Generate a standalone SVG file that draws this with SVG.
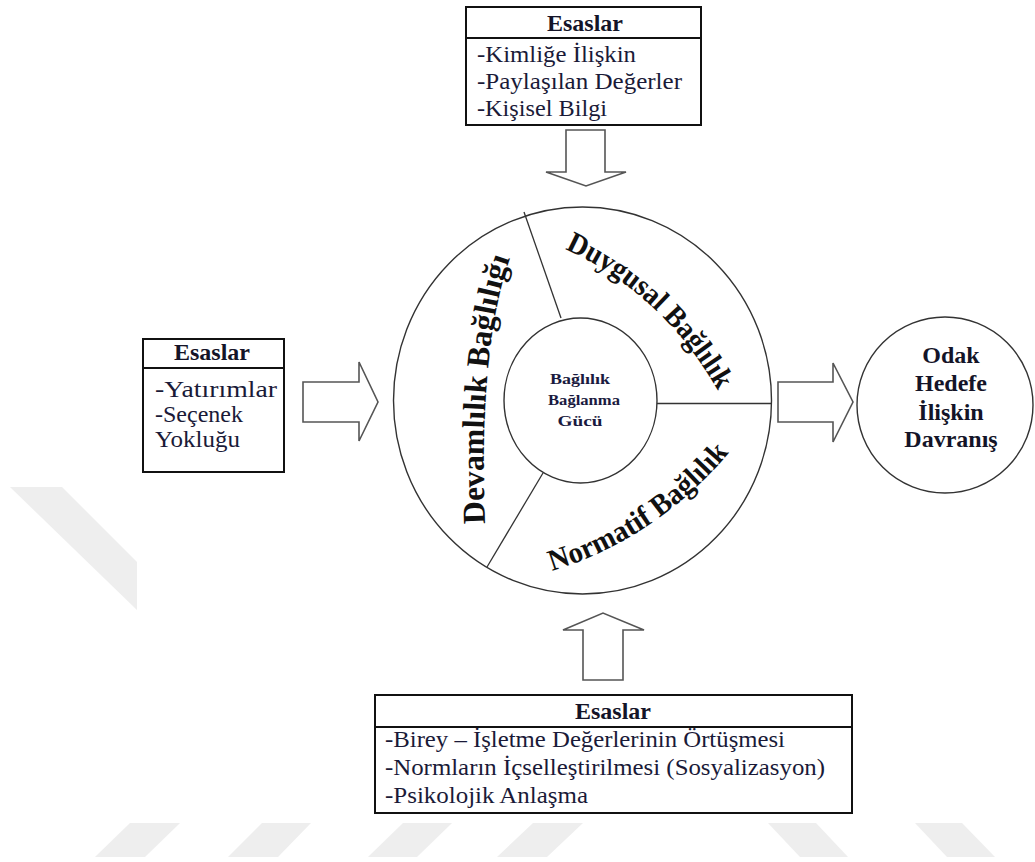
<svg xmlns="http://www.w3.org/2000/svg" width="1035" height="862" viewBox="0 0 1035 862">
<style>
.wm{fill:#eeeeee}
.box{fill:#ffffff;stroke:#111;stroke-width:2}
.div{stroke:#111;stroke-width:2}
.ring{fill:#ffffff;stroke:#333;stroke-width:1.4}
.sep{stroke:#333;stroke-width:1.3;fill:none}
.arrow{fill:#ffffff;stroke:#555;stroke-width:1.6;stroke-linejoin:miter}
.hd{font-family:"Liberation Serif","Times New Roman",serif;font-weight:bold;font-size:24px;fill:#141428;text-anchor:middle}
.it{font-family:"Liberation Serif","Times New Roman",serif;font-size:24px;fill:#1a1a38}
.ctr{font-family:"Liberation Serif","Times New Roman",serif;font-weight:bold;font-size:15px;fill:#1a1a40;text-anchor:middle}
.arc{font-family:"Liberation Serif","Times New Roman",serif;font-weight:bold;fill:#111}
</style>
<defs>
<path id="p-dev" d="M 485,524 Q 478,340 513,250"/>
<path id="p-duy" d="M 565,249 Q 668,296 724,402"/>
<path id="p-nor" d="M 552,571 Q 662,537 737,443"/>
</defs>
<rect width="1035" height="862" fill="#ffffff"/>
<g id="watermark">
<polygon class="wm" points="10,487 62,487 137,562 137,610"/>
<polygon class="wm" points="130,823 180,823 145,857 95,857"/>
<polygon class="wm" points="262,823 311,823 278,857 228,857"/>
<polygon class="wm" points="403,823 452,823 417,857 368,857"/>
<polygon class="wm" points="533,823 583,823 547,857 497,857"/>
<polygon class="wm" points="768,823 816,823 848,857 800,857"/>
<polygon class="wm" points="915,823 962,823 995,857 947,857"/>
</g>
<g id="connectors">
<polygon class="arrow" points="566,130 605,130 605,172 626,172 586,186 546,172 566,172"/>
<polygon class="arrow" points="303,382 359,382 359,362 378,402 359,441 359,422 303,422"/>
<polygon class="arrow" points="778,382 833,382 833,363 853,402 833,442 833,422 778,422"/>
<polygon class="arrow" points="583,680 583,630 563,630 603,613 644,630 623,630 623,680"/>
</g>
<g id="box-top">
<rect class="box" x="466" y="7" width="235" height="118"/>
<line class="div" x1="466" y1="38" x2="701" y2="38"/>
<text class="hd" x="585" y="31">Esaslar</text>
<text class="it" x="477" y="62" textLength="159" lengthAdjust="spacingAndGlyphs">-Kimliğe İlişkin</text>
<text class="it" x="477" y="89" textLength="205" lengthAdjust="spacingAndGlyphs">-Paylaşılan Değerler</text>
<text class="it" x="477" y="116" textLength="130" lengthAdjust="spacingAndGlyphs">-Kişisel Bilgi</text>
</g>
<g id="box-left">
<rect class="box" x="143" y="339" width="141" height="133"/>
<line class="div" x1="143" y1="368" x2="284" y2="368"/>
<text class="hd" x="212" y="360">Esaslar</text>
<text class="it" x="155" y="397" textLength="122" lengthAdjust="spacingAndGlyphs">-Yatırımlar</text>
<text class="it" x="155" y="422" textLength="88" lengthAdjust="spacingAndGlyphs">-Seçenek</text>
<text class="it" x="155" y="447" textLength="85" lengthAdjust="spacingAndGlyphs">Yokluğu</text>
</g>
<g id="box-bottom">
<rect class="box" x="375" y="695" width="477" height="118"/>
<line class="div" x1="375" y1="727" x2="852" y2="727"/>
<text class="hd" x="613" y="719">Esaslar</text>
<text class="it" x="385" y="747" textLength="400" lengthAdjust="spacingAndGlyphs">-Birey – İşletme Değerlerinin Örtüşmesi</text>
<text class="it" x="385" y="775" textLength="440" lengthAdjust="spacingAndGlyphs">-Normların İçselleştirilmesi (Sosyalizasyon)</text>
<text class="it" x="385" y="803" textLength="203" lengthAdjust="spacingAndGlyphs">-Psikolojik Anlaşma</text>
</g>
<g id="commitment-wheel">
<ellipse class="ring" cx="582.5" cy="400.5" rx="189" ry="193.5"/>
<line class="sep" x1="524" y1="212" x2="561" y2="318"/>
<line class="sep" x1="543" y1="473" x2="487" y2="567"/>
<line class="sep" x1="657" y1="403.5" x2="771" y2="403.5"/>
<ellipse class="ring" cx="580.5" cy="400.5" rx="76.5" ry="82.5"/>
<text class="arc" font-size="32"><textPath href="#p-dev" textLength="268" lengthAdjust="spacingAndGlyphs">Devamlılık Bağlılığı</textPath></text>
<text class="arc" font-size="30"><textPath href="#p-duy" textLength="112" lengthAdjust="spacingAndGlyphs">Duygusal</textPath></text>
<text class="arc" font-size="30"><textPath href="#p-duy" startOffset="119" textLength="93" lengthAdjust="spacingAndGlyphs">Bağlılık</textPath></text>
<text class="arc" font-size="30"><textPath href="#p-nor" textLength="216" lengthAdjust="spacingAndGlyphs">Normatif Bağlılık</textPath></text>
</g>
<g id="center">
<text class="ctr" x="580" y="384" textLength="60" lengthAdjust="spacingAndGlyphs">Bağlılık</text>
<text class="ctr" x="584" y="405" textLength="72" lengthAdjust="spacingAndGlyphs">Bağlanma</text>
<text class="ctr" x="580" y="426" textLength="45" lengthAdjust="spacingAndGlyphs">Gücü</text>
</g>
<g id="outcome">
<ellipse class="ring" cx="945" cy="405" rx="88" ry="88"/>
<text class="hd" x="951" y="363">Odak</text>
<text class="hd" x="951" y="391">Hedefe</text>
<text class="hd" x="951" y="420">İlişkin</text>
<text class="hd" x="951" y="447">Davranış</text>
</g>
</svg>
